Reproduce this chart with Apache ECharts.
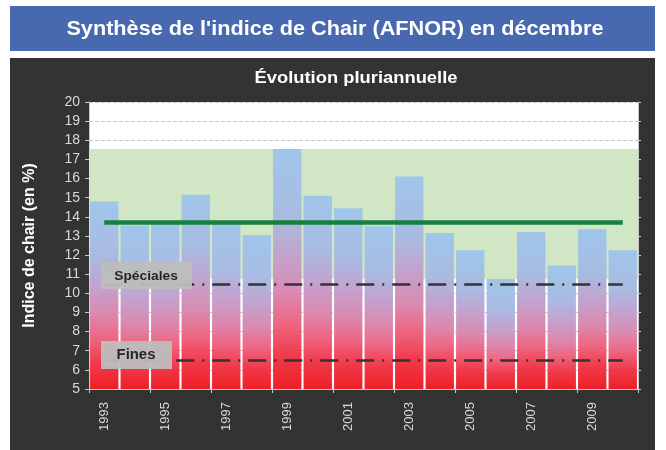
<!DOCTYPE html>
<html>
<head>
<meta charset="utf-8">
<script src="https://cdn.jsdelivr.net/npm/echarts@6/dist/echarts.min.js"></script>
<style>
  html, body { margin: 0; padding: 0; background: #fff; }
  #chart { width: 666px; height: 450px; }
</style>
</head>
<body>
<div id="chart"></div>
<script>
// données
const years = ['1993', '1994', '1995', '1996', '1997', '1998', '1999', '2000', '2001',
  '2002', '2003', '2004', '2005', '2006', '2007', '2008', '2009', '2010'];
const indice = [14.8, 13.55, 13.7, 15.15, 13.65, 13.05, 17.55, 15.1, 14.45,
  13.5, 16.1, 13.15, 12.25, 10.75, 13.2, 11.45, 13.35, 12.25];
const moyenne = 13.73;
const plage = [10.75, 17.55];         // min / max de la série
const seuils = [
  { name: 'Spéciales', value: 10.5 },
  { name: 'Fines', value: 6.5 }
];

const chart = echarts.init(document.getElementById('chart'), null, { renderer: 'canvas' });

const barColor = new echarts.graphic.LinearGradient(0, 0, 0, 1, [
  { offset: 0, color: '#9fc6ea' },
  { offset: 0.28, color: '#a9bbe2' },
  { offset: 0.45, color: '#c3a2cd' },
  { offset: 0.6, color: '#db89b0' },
  { offset: 0.73, color: '#ee6682' },
  { offset: 0.86, color: '#f03a4a' },
  { offset: 1, color: '#ee1f26' }
]);

const last = years.length - 1;
const FONT = '"Liberation Sans", Arial, sans-serif';

const option = {
  backgroundColor: '#ffffff',
  animation: false,
  textStyle: { fontFamily: 'Liberation Sans, Arial, sans-serif' },
  graphic: [
    { type: 'rect', shape: { x: 10, y: 6, width: 645, height: 45 }, style: { fill: '#4869b0' }, z: 0 },
    {
      type: 'text', x: 335, y: 29, z: 1, scaleX: 1.083,
      style: {
        text: "Synthèse de l'indice de Chair (AFNOR) en décembre",
        fill: '#fff', font: 'bold 20px ' + FONT,
        align: 'center', verticalAlign: 'middle'
      }
    },
    { type: 'rect', shape: { x: 10, y: 58, width: 645, height: 392 }, style: { fill: '#323333' }, z: -10 },
    {
      type: 'text', x: 356, y: 78, z: 1, scaleX: 1.08,
      style: {
        text: 'Évolution pluriannuelle', fill: '#fff',
        font: 'bold 17px ' + FONT,
        align: 'center', verticalAlign: 'middle'
      }
    },
    { type: 'rect', shape: { x: 101, y: 262, width: 91, height: 27 }, style: { fill: '#bdbdbd', opacity: 0.95 }, z: 20 },
    {
      type: 'text', x: 146, y: 276, z: 21, scaleX: 1.06,
      style: { text: seuils[0].name, fill: '#262626', font: 'bold 13px ' + FONT, align: 'center', verticalAlign: 'middle' }
    },
    { type: 'rect', shape: { x: 101, y: 341, width: 71, height: 28 }, style: { fill: '#bdbdbd', opacity: 0.95 }, z: 20 },
    {
      type: 'text', x: 136, y: 355, z: 21, scaleX: 1.06,
      style: { text: seuils[1].name, fill: '#262626', font: 'bold 14px ' + FONT, align: 'center', verticalAlign: 'middle' }
    }
  ],
  grid: {
    left: 89, right: 28, top: 102, bottom: 61,
    show: true, backgroundColor: '#ffffff', borderWidth: 0
  },
  xAxis: {
    type: 'category',
    data: years,
    boundaryGap: true,
    axisLine: { lineStyle: { color: '#c8c8c8', width: 1 } },
    axisTick: { show: true, length: 4, lineStyle: { color: '#c8c8c8' } },
    axisLabel: { interval: 1, rotate: 90, color: '#d9d9d9', fontSize: 13, margin: 13 }
  },
  yAxis: [
    {
      type: 'value', min: 5, max: 20, interval: 1,
      name: 'Indice de chair (en %)',
      nameLocation: 'middle', nameGap: 51, nameRotate: 90,
      nameTextStyle: { color: '#ffffff', fontSize: 16, fontWeight: 'bold' },
      axisLine: { show: true, lineStyle: { color: '#c8c8c8' } },
      axisTick: { show: true, length: 4, lineStyle: { color: '#c8c8c8' } },
      axisLabel: { color: '#d9d9d9', fontSize: 14, margin: 9 },
      splitLine: { show: true, lineStyle: { color: '#c8c8c8', type: [4, 2] } }
    },
    {
      type: 'value', min: 5, max: 20, interval: 1, position: 'right',
      axisLine: { show: true, lineStyle: { color: '#c8c8c8' } },
      axisTick: { show: true, length: 3, lineStyle: { color: '#c8c8c8' } },
      axisLabel: { show: false },
      splitLine: { show: false }
    }
  ],
  series: [
    {
      name: 'plage',
      type: 'line',
      data: [],
      z: 1,
      silent: true,
      markArea: {
        silent: true,
        itemStyle: { color: '#d0e6c4' },
        data: [[{ yAxis: plage[0] }, { yAxis: plage[1] }]]
      }
    },
    {
      name: 'Indice de chair',
      type: 'bar',
      data: indice,
      z: 2,
      barCategoryGap: '7%',
      itemStyle: { color: barColor }
    },
    {
      name: 'repères',
      type: 'line',
      data: [],
      z: 5,
      silent: true,
      markLine: {
        silent: true,
        symbol: 'none',
        label: { show: false },
        data: [
          [
            { coord: [0, moyenne], lineStyle: { color: '#15803f', width: 4.5, type: 'solid' } },
            { coord: [last, moyenne] }
          ],
          [
            { coord: [0, seuils[0].value], lineStyle: { color: '#333333', width: 2.5, type: [18, 8, 2, 8] } },
            { coord: [last, seuils[0].value] }
          ],
          [
            { coord: [0, seuils[1].value], lineStyle: { color: '#333333', width: 2.5, type: [18, 8, 2, 8] } },
            { coord: [last, seuils[1].value] }
          ]
        ]
      }
    }
  ]
};

chart.setOption(option);
</script>
</body>
</html>
